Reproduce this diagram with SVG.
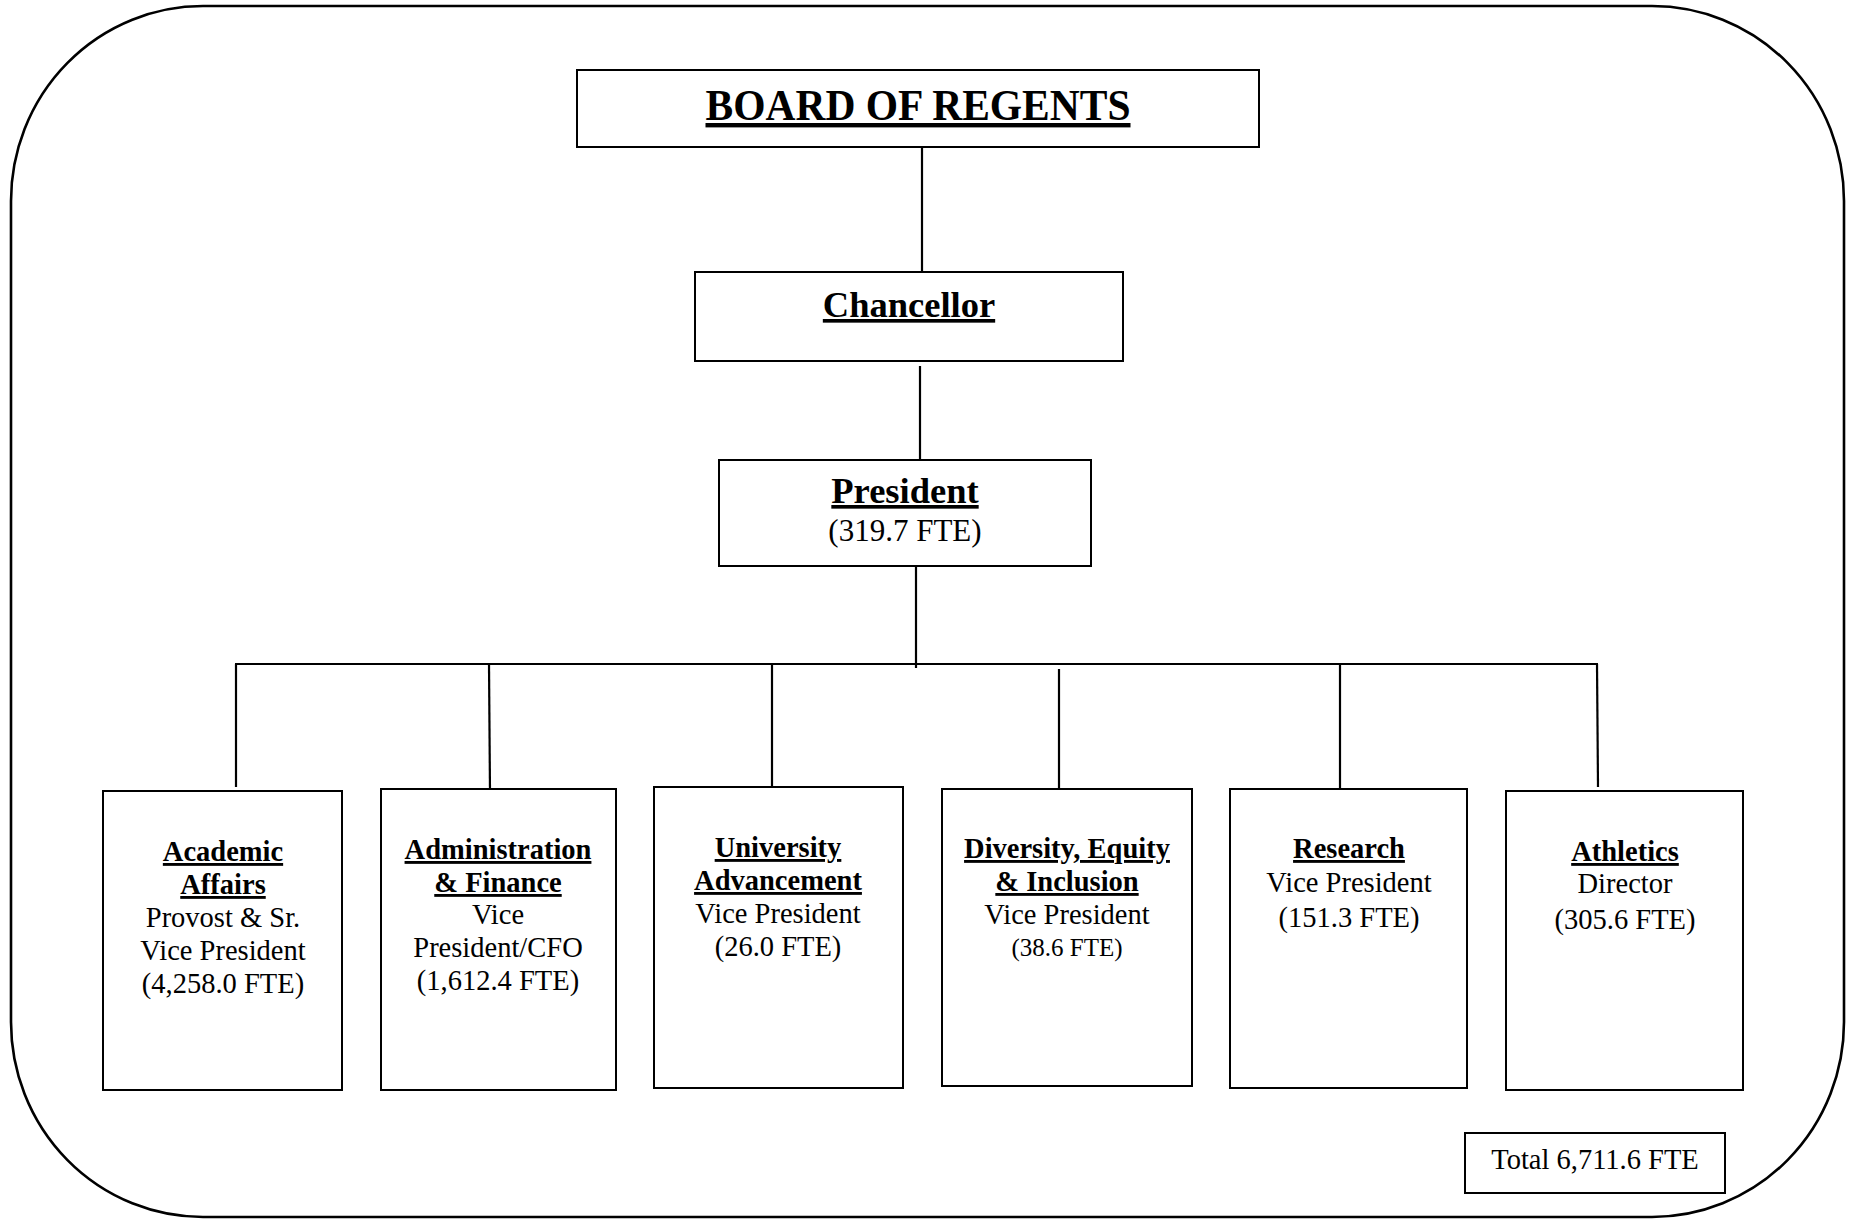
<svg xmlns="http://www.w3.org/2000/svg" width="1853" height="1220" viewBox="0 0 1853 1220">
<style>
.box{fill:#fff;stroke:#000;stroke-width:2}
.ln{stroke:#000;stroke-width:2.2;fill:none}
text{font-family:"Liberation Serif","Times New Roman",serif;fill:#000;text-anchor:middle}
.h{font-weight:bold;font-size:28.5px;text-decoration:underline}
.r{font-size:28.5px}
</style>
<rect x="0" y="0" width="1853" height="1220" fill="#fff"/>
<rect id="frame" x="11" y="6" width="1833" height="1211" rx="192" ry="195" fill="none" stroke="#000" stroke-width="2.6"/>
<g id="connectors">
<line class="ln" x1="922" y1="147" x2="922" y2="272"/>
<line class="ln" x1="920" y1="366" x2="920" y2="459"/>
<line class="ln" x1="916" y1="566" x2="916" y2="668"/>
<line class="ln" x1="235" y1="664" x2="1598" y2="664"/>
<line class="ln" x1="236" y1="664" x2="236" y2="787"/>
<line class="ln" x1="489" y1="664" x2="490" y2="793"/>
<line class="ln" x1="772" y1="664" x2="772" y2="786"/>
<line class="ln" x1="1059" y1="669" x2="1059" y2="789"/>
<line class="ln" x1="1340" y1="664" x2="1340" y2="789"/>
<line class="ln" x1="1597" y1="664" x2="1598" y2="787"/>
</g>
<g id="board">
<rect class="box" x="577" y="70" width="682" height="77"/>
<text x="918" y="120" font-size="44" font-weight="bold" text-decoration="underline" textLength="425" lengthAdjust="spacingAndGlyphs">BOARD OF REGENTS</text>
</g>
<g id="chancellor">
<rect class="box" x="695" y="272" width="428" height="89"/>
<text x="909" y="317" font-size="36.5" font-weight="bold" text-decoration="underline">Chancellor</text>
</g>
<g id="president">
<rect class="box" x="719" y="460" width="372" height="106"/>
<text x="905" y="503" font-size="36.5" font-weight="bold" text-decoration="underline">President</text>
<text x="905" y="541" font-size="31">(319.7 FTE)</text>
</g>
<g id="academic">
<rect class="box" x="103" y="791" width="239" height="299"/>
<text class="h" x="223" y="861">Academic</text>
<text class="h" x="223" y="894">Affairs</text>
<text class="r" x="223" y="927">Provost &amp; Sr.</text>
<text class="r" x="223" y="960">Vice President</text>
<text class="r" x="223" y="993">(4,258.0 FTE)</text>
</g>
<g id="admin">
<rect class="box" x="381" y="789" width="235" height="301"/>
<text class="h" x="498" y="859">Administration</text>
<text class="h" x="498" y="892">&amp; Finance</text>
<text class="r" x="498" y="924">Vice</text>
<text class="r" x="498" y="957">President/CFO</text>
<text class="r" x="498" y="990">(1,612.4 FTE)</text>
</g>
<g id="advancement">
<rect class="box" x="654" y="787" width="249" height="301"/>
<text class="h" x="778" y="857">University</text>
<text class="h" x="778" y="890">Advancement</text>
<text class="r" x="778" y="923">Vice President</text>
<text class="r" x="778" y="956">(26.0 FTE)</text>
</g>
<g id="dei">
<rect class="box" x="942" y="789" width="250" height="297"/>
<text class="h" x="1067" y="858">Diversity, Equity</text>
<text class="h" x="1067" y="891">&amp; Inclusion</text>
<text class="r" x="1067" y="924">Vice President</text>
<text x="1067" y="956" font-size="25">(38.6 FTE)</text>
</g>
<g id="research">
<rect class="box" x="1230" y="789" width="237" height="299"/>
<text class="h" x="1349" y="858">Research</text>
<text class="r" x="1349" y="892">Vice President</text>
<text class="r" x="1349" y="927">(151.3 FTE)</text>
</g>
<g id="athletics">
<rect class="box" x="1506" y="791" width="237" height="299"/>
<text class="h" x="1625" y="861">Athletics</text>
<text class="r" x="1625" y="893">Director</text>
<text class="r" x="1625" y="929">(305.6 FTE)</text>
</g>
<g id="total">
<rect class="box" x="1465" y="1133" width="260" height="60"/>
<text class="r" x="1595" y="1169">Total 6,711.6 FTE</text>
</g>
</svg>
